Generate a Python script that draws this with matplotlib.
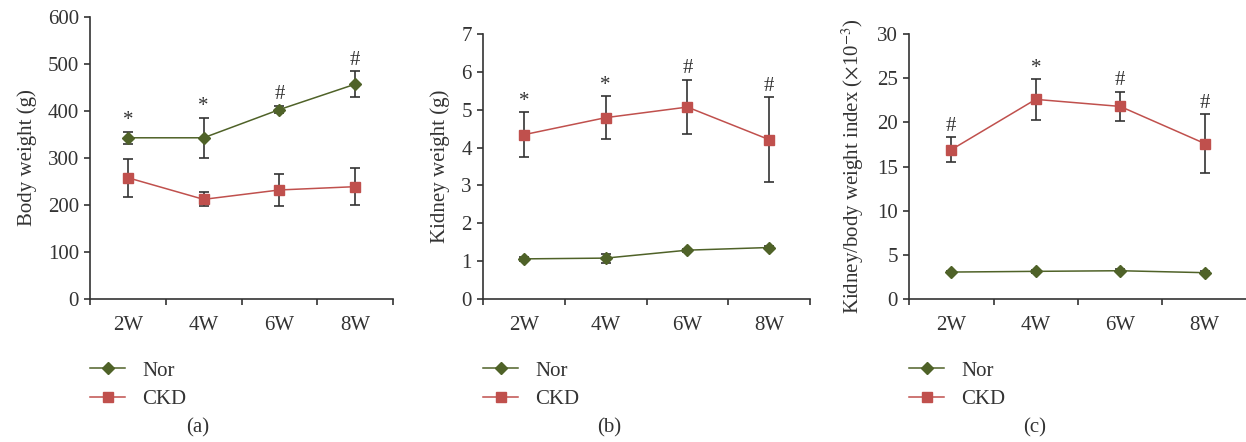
import matplotlib
matplotlib.use("Agg")
import matplotlib.pyplot as plt
from matplotlib.lines import Line2D
import numpy as np

# ==================== DATA ====================
weeks = ["2W", "4W", "6W", "8W"]

body_nor = [343, 343, 403, 457]
body_nor_err = [13, 43, 8, 28]
body_ckd = [258, 212, 232, 239]
body_ckd_err = [40, 15, 35, 39]
body_marks = ["*", "*", "#", "#"]

kidney_nor = [1.06, 1.08, 1.29, 1.36]
kidney_nor_err = [0.06, 0.12, 0.04, 0.05]
kidney_ckd = [4.34, 4.79, 5.07, 4.21]
kidney_ckd_err = [0.59, 0.57, 0.72, 1.12]
kidney_marks = ["*", "*", "#", "#"]

index_nor = [3.05, 3.13, 3.20, 2.98]
index_nor_err = [0.15, 0.15, 0.15, 0.15]
index_ckd = [16.9, 22.6, 21.8, 17.6]
index_ckd_err = [1.4, 2.3, 1.65, 3.3]
index_marks = ["#", "*", "#", "#"]

# ==================== STYLE ====================
plt.rcParams["font.family"] = ["Liberation Serif", "DejaVu Serif"]
plt.rcParams["mathtext.fontset"] = "stix"

NOR_C = "#4f6228"
CKD_C = "#c0504d"
AX_C = "#333333"
FS = 15

W, H = 1246, 442
fig = plt.figure(figsize=(W / 100, H / 100), dpi=100)


def px_axes(left, top, right, bottom):
    return fig.add_axes([left / W, 1 - bottom / H, (right - left) / W, (bottom - top) / H])


def panel(ax, nor, nor_err, ckd, ckd_err, marks, ymax, ystep, ylabel, letter, leg_x, letter_x):
    x = np.arange(len(weeks)) + 0.5
    ekw = dict(ecolor=AX_C, elinewidth=1.2, capsize=3.5, capthick=1.2)
    ax.errorbar(x, nor, yerr=nor_err, color=NOR_C, lw=1.1, marker="D", ms=6,
                mfc=NOR_C, mec=NOR_C, zorder=3, **ekw)
    ax.errorbar(x, ckd, yerr=ckd_err, color=CKD_C, lw=1.1, marker="s", ms=7,
                mfc=CKD_C, mec=CKD_C, zorder=3, **ekw)

    # significance marks above the higher group's error bar
    for xi, n, ne, c, ce, m in zip(x, nor, nor_err, ckd, ckd_err, marks):
        top = max(n + ne, c + ce)
        ax.annotate(m, (xi, top), xytext=(0, 1), textcoords="offset points",
                    ha="center", va="bottom", fontsize=FS, color=AX_C)

    ax.set_xlim(0, len(weeks))
    ax.set_ylim(0, ymax)
    ax.set_yticks(np.arange(0, ymax + ystep / 2, ystep))
    ax.set_xticks(x)
    ax.set_xticklabels(weeks)
    ax.set_xticks(np.arange(0, len(weeks) + 1), minor=True)
    ax.tick_params(axis="x", which="major", length=0, pad=12, labelsize=FS, colors=AX_C)
    ax.tick_params(axis="x", which="minor", length=4, width=1.2, color=AX_C)
    ax.tick_params(axis="y", length=4, width=1.2, pad=4, labelsize=FS, colors=AX_C)
    for s in ["top", "right"]:
        ax.spines[s].set_visible(False)
    for s in ["left", "bottom"]:
        ax.spines[s].set_color(AX_C)
        ax.spines[s].set_linewidth(1.2)
    ax.set_ylabel(ylabel, fontsize=FS, color=AX_C, labelpad=8)

    handles = [
        Line2D([], [], color=NOR_C, lw=1.1, marker="D", ms=6, mfc=NOR_C, mec=NOR_C, label="Nor"),
        Line2D([], [], color=CKD_C, lw=1.1, marker="s", ms=7, mfc=CKD_C, mec=CKD_C, label="CKD"),
    ]
    fig.legend(handles=handles, loc="upper left", bbox_to_anchor=(leg_x / W, 1 - 361 / H),
               frameon=False, fontsize=FS, handlelength=1.7, handletextpad=0.8,
               labelspacing=0.42, borderpad=0, borderaxespad=0, labelcolor=AX_C)
    fig.text(letter_x / W, 1 - 428 / H, letter, ha="center", va="center", fontsize=FS, color=AX_C)


ax_a = px_axes(90, 17, 393, 299)
panel(ax_a, body_nor, body_nor_err, body_ckd, body_ckd_err, body_marks,
      600, 100, "Body weight (g)", "(a)", 90, 198)

ax_b = px_axes(483, 34, 810, 299)
panel(ax_b, kidney_nor, kidney_nor_err, kidney_ckd, kidney_ckd_err, kidney_marks,
      7, 1, "Kidney weight (g)", "(b)", 483, 609)

ax_c = px_axes(909, 34, 1247, 299)
panel(ax_c, index_nor, index_nor_err, index_ckd, index_ckd_err, index_marks,
      30, 5, r"Kidney/body weight index ($\times$10$^{-3}$)", "(c)", 909, 1035)

fig.savefig("out.png", dpi=100)
